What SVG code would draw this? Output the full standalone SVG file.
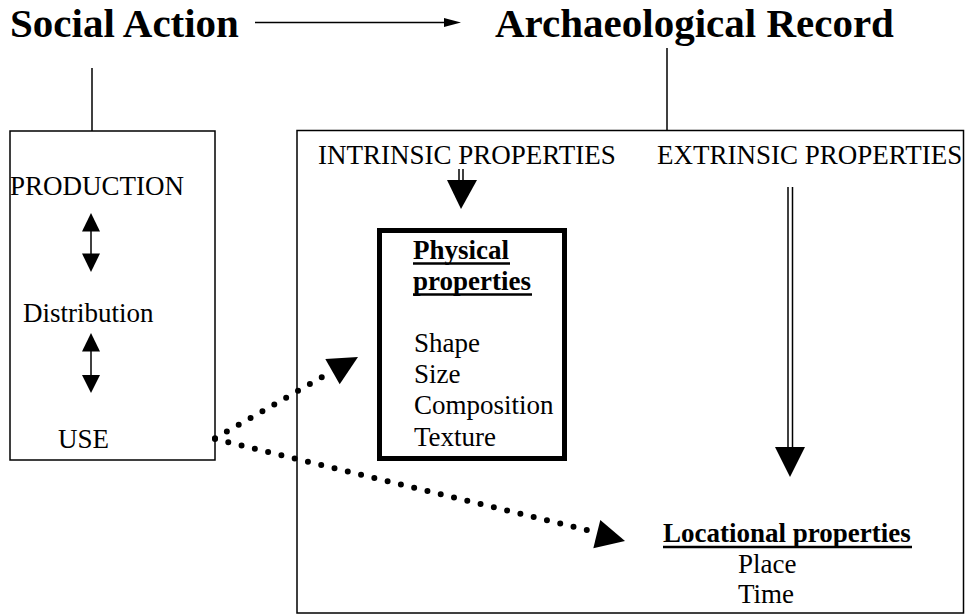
<svg xmlns="http://www.w3.org/2000/svg" width="973" height="616" viewBox="0 0 973 616">
<style>
  text { font-family: "Liberation Serif", "Times New Roman", serif; fill: #000; }
  .h { font-size: 41px; font-weight: bold; }
  .t { font-size: 27px; }
  .b { font-size: 27px; font-weight: bold; }
  .box { fill: none; stroke: #000; stroke-width: 1.5; }
  .thick { fill: none; stroke: #000; stroke-width: 5; }
  .ln { stroke: #000; stroke-width: 1.5; fill: none; }
  .ul { stroke: #000; stroke-width: 2.5; }
  .dots { stroke: #000; stroke-width: 6; stroke-linecap: round; fill: none; }
  .head { fill: #000; stroke: none; }
</style>
<rect width="973" height="616" fill="#fff"/>

<g id="social-action">
  <text class="h" x="10" y="37">Social Action</text>
</g>
<g id="archaeological-record">
  <text class="h" x="495" y="37">Archaeological Record</text>
</g>

<g id="social-action-box">
  <rect class="box" x="10" y="131" width="205" height="329"/>
  <text class="t" x="10" y="195">PRODUCTION</text>
  <text class="t" x="23" y="322">Distribution</text>
  <text class="t" x="58" y="448">USE</text>
</g>

<g id="record-box">
  <rect class="box" x="297" y="130.5" width="666.5" height="482.5"/>
  <text class="t" x="318" y="164">INTRINSIC PROPERTIES</text>
  <text class="t" x="657" y="164">EXTRINSIC PROPERTIES</text>
</g>

<g id="physical-properties">
  <rect class="thick" x="379.5" y="230.5" width="185" height="228"/>
  <text class="b" x="413" y="259">Physical</text>
  <line class="ul" x1="413" y1="263.5" x2="510" y2="263.5"/>
  <text class="b" x="413" y="290">properties</text>
  <line class="ul" x1="413" y1="294.5" x2="532" y2="294.5"/>
  <text class="t" x="414" y="352">Shape</text>
  <text class="t" x="414" y="383">Size</text>
  <text class="t" x="414" y="414">Composition</text>
  <text class="t" x="414" y="446">Texture</text>
</g>

<g id="locational-properties">
  <text class="b" x="663" y="542">Locational properties</text>
  <line class="ul" x1="663" y1="547" x2="912" y2="547"/>
  <text class="t" x="738" y="573">Place</text>
  <text class="t" x="738" y="603">Time</text>
</g>

<g id="connectors">
  <!-- top arrow -->
  <line class="ln" x1="255" y1="22.5" x2="447" y2="22.5"/>
  <polygon class="head" points="444,18 461,22.5 444,27"/>
  <!-- stems -->
  <line class="ln" x1="92" y1="68" x2="92" y2="131"/>
  <line class="ln" x1="667" y1="48" x2="667" y2="130.5"/>
  <!-- double arrows in left box -->
  <line class="ln" x1="91" y1="228" x2="91" y2="257"/>
  <polygon class="head" points="91,213 100,231.5 82,231.5"/>
  <polygon class="head" points="91,272 100,253.5 82,253.5"/>
  <line class="ln" x1="91" y1="348" x2="91" y2="378"/>
  <polygon class="head" points="91,333 100,351.5 82,351.5"/>
  <polygon class="head" points="91,393 100,375 82,375"/>
  <!-- intrinsic arrow -->
  <line class="ln" x1="459" y1="169" x2="459" y2="181"/>
  <line class="ln" x1="463" y1="169" x2="463" y2="181"/>
  <polygon class="head" points="447,180 477,180 461,209"/>
  <!-- extrinsic arrow -->
  <line class="ln" x1="788" y1="187" x2="788" y2="448"/>
  <line class="ln" x1="792.5" y1="187" x2="792.5" y2="448"/>
  <polygon class="head" points="775,447 805,447 790,477"/>
  <!-- dotted arrows from USE -->
  <path class="dots" d="M215 438.3 L321.8 377.25" stroke-dasharray="0 13.66"/>
  <polygon class="head" points="358,357 339.7,384.2 325.3,359"/>
  <path class="dots" d="M215 439 L586.8 530.03" stroke-dasharray="0 13.67"/>
  <polygon class="head" points="625,541 593.3,548.2 600.3,520"/>
</g>
</svg>
